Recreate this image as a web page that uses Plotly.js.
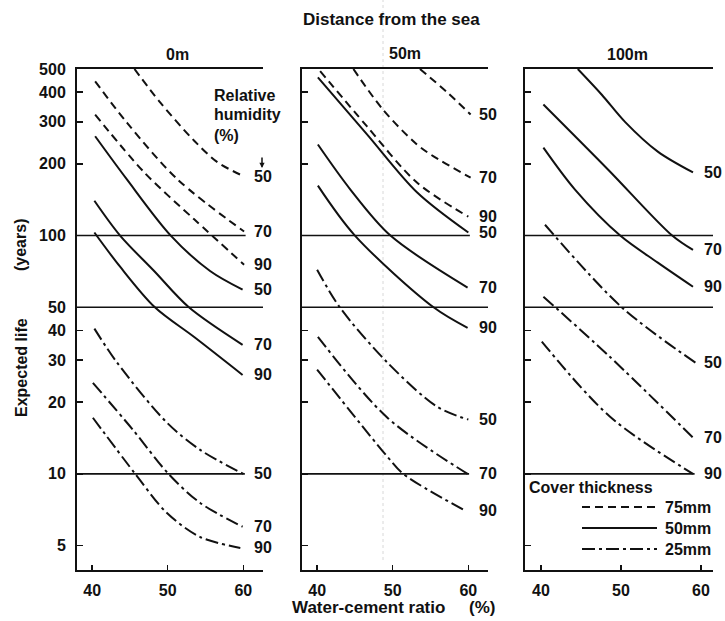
<!DOCTYPE html>
<html><head><meta charset="utf-8">
<script src="https://cdn.plot.ly/plotly-3.0.1.min.js"></script>
<style>html,body{margin:0;padding:0;background:#fff}#chart{width:725px;height:621px}</style>
</head><body><div id="chart"></div>
<script>
// ---------- DATA ----------
const distances = ['0m', '50m', '100m'];
const covers = ['75mm', '50mm', '25mm'];
const rhLevels = [50, 70, 90];
const wcTicks = [40, 50, 60];
const lifeTicks = [5, 10, 20, 30, 40, 50, 100, 200, 300, 400, 500];
const refLevels = [100, 50, 10];

// Distance 0m
const x0_75_50 = [45.6, 49, 53.5, 56.6, 60.1],   y0_75_50 = [500, 362, 250, 203, 177];
const x0_75_70 = [40.4, 44.6, 51.3, 60.1],       y0_75_70 = [444, 298, 172, 104];
const x0_75_90 = [40.4, 46.9, 53.5, 60.1],       y0_75_90 = [322, 184, 117, 75.5];
const x0_50_50 = [40.4, 44.6, 50.4, 55.6, 59.9], y0_50_50 = [261, 172, 100, 71, 59.3];
const x0_50_70 = [40.3, 43.7, 48.2, 52.8, 59.9], y0_50_70 = [140, 100, 71, 50, 34.8];
const x0_50_90 = [40.3, 43.7, 48.3, 53.5, 59.9], y0_50_90 = [103, 74, 50, 37.5, 26];
const x0_25_50 = [40.3, 43.3, 49.9, 54.3, 60],   y0_25_50 = [40.7, 29.3, 16.4, 12.6, 10];
const x0_25_70 = [40.1, 45.4, 50.1, 54.3, 59.9], y0_25_70 = [24.1, 15.3, 10, 7.55, 6.0];
const x0_25_90 = [40.1, 45.7, 49.9, 54.3, 59.6], y0_25_90 = [17.2, 10, 6.85, 5.43, 4.89];

// Distance 50m
const x50_75_50 = [53.6, 57.2, 60.3],             y50_75_50 = [500, 399, 322];
const x50_75_70 = [44.8, 48.7, 53.2, 55.4, 60.3], y50_75_70 = [500, 338, 241, 215, 175];
const x50_75_90 = [40.4, 46.6, 53.2, 60],         y50_75_90 = [490, 287, 167, 120];
const x50_50_50 = [40.1, 46.6, 53.2, 60],         y50_50_50 = [461, 266, 152, 103];
const x50_50_70 = [40.1, 44.4, 49.7, 59.9],       y50_50_70 = [241, 156, 100, 60.5];
const x50_50_90 = [40.1, 45.0, 55.4, 59.9],       y50_50_90 = [162, 100, 50, 41];
const x50_25_50 = [40, 43, 49.3, 55.9, 60],       y50_25_50 = [71.9, 50, 29.3, 19.1, 16.9];
const x50_25_70 = [40.1, 49.3, 59.9],             y50_25_70 = [37.6, 17.2, 10];
const x50_25_90 = [40, 49.3, 51.4, 59.6],         y50_25_90 = [27.4, 11.8, 10, 7.0];

// Distance 100m
const x100_50_50 = [44.6, 47.6, 50.5, 54.6, 59],  y100_50_50 = [500, 390, 300, 225, 184];
const x100_50_70 = [40.3, 48.4, 56.4, 59],        y100_50_70 = [355, 189, 100, 87];
const x100_50_90 = [40.3, 44.25, 49.9, 54.6, 59], y100_50_90 = [234, 156, 100, 77, 61];
const x100_25_50 = [40.5, 50.1, 59.3],            y100_25_50 = [111, 50, 29.3];
const x100_25_70 = [40.3, 48.6, 59],              y100_25_70 = [55.4, 31, 14.2];
const x100_25_90 = [40.1, 48.6, 59],              y100_25_90 = [35.9, 17.4, 10];

// reference line end (x) per panel for levels 100, 50, 10
const refEnd0 = [60.3, 62.6, 60.2];
const refEnd50 = [60.2, 62.6, 60.1];
const refEnd100 = [61.5, 61.5, 59.2];

// ---------- BUILD ----------
const W = 725, H = 621;
const dashFor = {'75mm': '8px,5px', '50mm': 'solid', '25mm': '13px,4px,3px,4px'};

const panels = [
  {ax: '', xr: [38, 62.6], labelX: 61.1, refEnd: refEnd0, curves: [
    [x0_75_50, y0_75_50, '75mm', 50], [x0_75_70, y0_75_70, '75mm', 70], [x0_75_90, y0_75_90, '75mm', 90],
    [x0_50_50, y0_50_50, '50mm', 50], [x0_50_70, y0_50_70, '50mm', 70], [x0_50_90, y0_50_90, '50mm', 90],
    [x0_25_50, y0_25_50, '25mm', 50], [x0_25_70, y0_25_70, '25mm', 70], [x0_25_90, y0_25_90, '25mm', 90]]},
  {ax: '2', xr: [38, 62.6], labelX: 61.1, refEnd: refEnd50, curves: [
    [x50_75_50, y50_75_50, '75mm', 50], [x50_75_70, y50_75_70, '75mm', 70], [x50_75_90, y50_75_90, '75mm', 90],
    [x50_50_50, y50_50_50, '50mm', 50], [x50_50_70, y50_50_70, '50mm', 70], [x50_50_90, y50_50_90, '50mm', 90],
    [x50_25_50, y50_25_50, '25mm', 50], [x50_25_70, y50_25_70, '25mm', 70], [x50_25_90, y50_25_90, '25mm', 90]]},
  {ax: '3', xr: [38, 61.5], labelX: 60.1, refEnd: refEnd100, curves: [
    [x100_50_50, y100_50_50, '50mm', 50], [x100_50_70, y100_50_70, '50mm', 70], [x100_50_90, y100_50_90, '50mm', 90],
    [x100_25_50, y100_25_50, '25mm', 50], [x100_25_70, y100_25_70, '25mm', 70], [x100_25_90, y100_25_90, '25mm', 90]]}
];
const domainsX = [[77 / W, 263 / W], [302 / W, 488 / W], [525 / W, 713 / W]];
const domainY = [1 - 570 / H, 1 - 69 / H];

const traces = [];
const annotations = [];
const FONT = '"Liberation Sans", Arial, Helvetica, sans-serif';
const layout = {
  width: W, height: H, margin: {l: 0, r: 0, t: 0, b: 0},
  paper_bgcolor: '#fff', plot_bgcolor: '#fff', showlegend: false,
  font: {family: FONT, size: 16, color: '#111', weight: 'bold'},
  annotations: annotations, shapes: []
};

panels.forEach((p, i) => {
  const xa = 'x' + p.ax, ya = 'y' + p.ax;
  refLevels.forEach((lv, k) => {
    traces.push({x: [38, p.refEnd[k]], y: [lv, lv], xaxis: xa, yaxis: ya, mode: 'lines',
      line: {color: '#111', width: 1.6}, hoverinfo: 'skip'});
  });
  p.curves.forEach(c => {
    traces.push({x: c[0], y: c[1], xaxis: xa, yaxis: ya, mode: 'lines', name: c[2] + ' RH' + c[3],
      line: {color: '#111', width: 2, dash: dashFor[c[2]], shape: 'spline', smoothing: 0.9}});
    annotations.push({xref: xa, yref: ya, x: p.labelX, y: Math.log10(c[1][c[1].length - 1]),
      text: String(c[3]), showarrow: false, xanchor: 'left', yanchor: 'middle',
      font: {size: 16, weight: 'bold'}});
  });
  layout['xaxis' + p.ax] = {domain: domainsX[i], range: p.xr, anchor: ya, tickvals: wcTicks,
    ticks: 'inside', ticklen: 5, tickwidth: 1.5, tickcolor: '#111', ticklabelstandoff: 5,
    showline: true, linewidth: 2, linecolor: '#111', mirror: true, showgrid: false, zeroline: false,
    tickfont: {size: 16, weight: 'bold'}};
  layout['yaxis' + p.ax] = {domain: domainY, type: 'log', range: [Math.log10(3.95), Math.log10(500)],
    anchor: xa, tickvals: lifeTicks, ticktext: lifeTicks.map(String), showticklabels: i === 0,
    ticks: 'inside', ticklen: 6, tickwidth: 1.5, tickcolor: '#111', ticklabelstandoff: 6,
    showline: true, linewidth: 2, linecolor: '#111', showgrid: false, zeroline: false,
    tickfont: {size: 16, weight: 'bold'}};
});

function pa(text, xpx, ypx, extra) {
  return Object.assign({text: text, x: xpx / W, y: 1 - ypx / H, xref: 'paper', yref: 'paper',
    xanchor: 'center', yanchor: 'middle', showarrow: false, font: {size: 16, weight: 'bold'}}, extra || {});
}
annotations.push(pa('Distance from the sea', 391, 19, {font: {size: 17, weight: 'bold'}}));
annotations.push(pa(distances[0], 177, 55));
annotations.push(pa(distances[1], 405, 54));
annotations.push(pa(distances[2], 627, 55));
annotations.push(pa('Water-cement ratio', 368, 607, {font: {size: 17, weight: 'bold'}}));
annotations.push(pa('(%)', 482, 607, {font: {size: 17, weight: 'bold'}}));
annotations.push(pa('Expected life', 21, 368, {textangle: -90}));
annotations.push(pa('(years)', 21, 245, {textangle: -90}));
annotations.push(pa('Relative', 212, 95, {xanchor: 'left'}));
annotations.push(pa('humidity', 212, 115, {xanchor: 'left'}));
annotations.push(pa('(%)', 212, 136, {xanchor: 'left'}));
annotations.push({x: 262 / W, y: 1 - 168 / H, xref: 'paper', yref: 'paper', ax: 0, ay: -12, text: '',
  showarrow: true, arrowhead: 2, arrowsize: 0.7, arrowwidth: 1.5, arrowcolor: '#111'});
// legend
annotations.push(pa('Cover thickness', 527, 487, {xanchor: 'left'}));
const legY = [507, 528, 549];
covers.forEach((cv, k) => {
  annotations.push(pa(cv, 663, legY[k], {xanchor: 'left'}));
  layout.shapes.push({type: 'line', xref: 'paper', yref: 'paper', x0: 582 / W, x1: 657 / W,
    y0: 1 - legY[k] / H, y1: 1 - legY[k] / H, line: {color: '#111', width: 2, dash: dashFor[cv]}});
});
// faint fold line of the scanned original
layout.shapes.push({type: 'line', xref: 'paper', yref: 'paper', x0: 383 / W, x1: 383 / W,
  y0: 1 - 560 / H, y1: 1, layer: 'below', line: {color: '#d8d8d8', width: 1, dash: 'dot'}});

Plotly.newPlot('chart', traces, layout, {staticPlot: true, displayModeBar: false});
</script></body></html>
